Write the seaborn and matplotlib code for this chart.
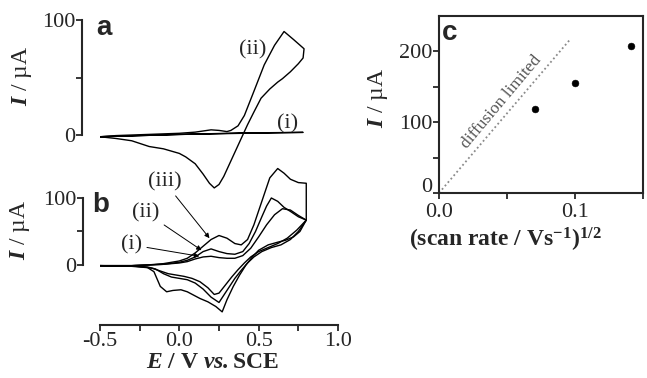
import pandas as pd
import matplotlib.pyplot as plt
import matplotlib.transforms as mtransforms
import seaborn as sns

# ---- panel a : CV (ii) forward + reverse, CV (i) flat ----
a2_fwd_E = [-0.5, -0.4, -0.3, -0.2, -0.1, 0.0, 0.1, 0.15, 0.2, 0.25, 0.3, 0.325,
            0.37, 0.41, 0.47, 0.535, 0.6, 0.66, 0.72, 0.786]
a2_fwd_I = [-1.5, -0.5, 0, 0.5, 1, 1.5, 2.5, 3.5, 4.5, 4, 3, 4,
            8, 17, 38, 61, 78, 90, 83, 75]
a2_rev_E = [0.78, 0.75, 0.7, 0.65, 0.62, 0.57, 0.515, 0.47, 0.43, 0.4, 0.36, 0.32,
            0.28, 0.25, 0.22, 0.19, 0.15, 0.1, 0.04, 0.0, -0.1, -0.19, -0.3, -0.4, -0.5]
a2_rev_I = [67, 62, 55, 49, 46, 40, 32, 20, 9, 0, -12, -24,
            -36, -43, -46, -42, -34, -25, -19, -16, -12, -10, -5, -3, -1.5]
a1_E = [-0.5, 0.0, 0.4, 0.78, 0.4, 0.0, -0.5]
a1_I = [-1.5, 0.5, 1.5, 2.3, 1.8, 0.5, -1.5]

# ---- panel b : three CVs at increasing scan rate ----
b1_fwd_E = [-0.5, -0.3, -0.2, -0.1, 0.0, 0.05, 0.1, 0.15, 0.2, 0.25, 0.3, 0.35, 0.4,
            0.45, 0.5, 0.55, 0.6, 0.65, 0.7, 0.75, 0.8]
b1_fwd_I = [-1, -1, 0, 1, 3, 5, 9, 12, 13, 11, 10, 10, 14,
            25, 42, 60, 75, 84, 82, 74, 67]
b1_rev_E = [0.8, 0.74, 0.68, 0.62, 0.56, 0.5, 0.45, 0.41, 0.37, 0.33, 0.29, 0.25, 0.22,
            0.18, 0.13, 0.08, 0.03, -0.02, -0.07, -0.12, -0.17, -0.22, -0.3, -0.5]
b1_rev_I = [67, 52, 40, 32, 26, 20, 12, 3, -7, -18, -30, -42, -44,
            -34, -25, -20, -17, -15, -13, -9, -5, -3, -1.5, -1]

b2_fwd_E = [-0.5, -0.3, -0.2, -0.1, 0.0, 0.05, 0.1, 0.15, 0.2, 0.25, 0.3, 0.35, 0.4,
            0.44, 0.48, 0.52, 0.55, 0.58, 0.62, 0.66, 0.7, 0.75, 0.8]
b2_fwd_I = [-1, -1, 0, 1, 4, 7, 12, 20, 24, 20, 17, 16, 20,
            32, 50, 72, 88, 100, 95, 86, 80, 72, 67]
b2_rev_E = [0.8, 0.75, 0.7, 0.64, 0.58, 0.52, 0.47, 0.43, 0.39, 0.35, 0.3, 0.25, 0.2,
            0.15, 0.1, 0.05, 0.0, -0.05, -0.1, -0.15, -0.2, -0.3, -0.5]
b2_rev_I = [67, 50, 38, 30, 26, 20, 12, 3, -8, -20, -38, -56, -48,
            -36, -27, -22, -20, -18, -13, -6, -3, -1.5, -1]

b3_fwd_E = [-0.5, -0.3, -0.2, -0.1, 0.0, 0.05, 0.1, 0.15, 0.2, 0.25, 0.3, 0.35, 0.39,
            0.43, 0.47, 0.52, 0.57, 0.62, 0.66, 0.7, 0.75, 0.8]
b3_fwd_I = [-1, -1, 0, 2, 6, 10, 18, 28, 38, 44, 40, 32, 30,
            38, 60, 95, 130, 144, 137, 128, 123, 122]
b3_rev_E = [0.8, 0.76, 0.72, 0.67, 0.62, 0.56, 0.5, 0.46, 0.42, 0.38, 0.34, 0.3, 0.27,
            0.23, 0.18, 0.13, 0.09, 0.05, 0.01, -0.04, -0.08, -0.12, -0.16, -0.2, -0.3, -0.5]
b3_rev_I = [67, 50, 42, 37, 34, 30, 22, 12, 0, -15, -32, -52, -70,
            -62, -55, -50, -45, -40, -37, -38, -40, -32, -10, -4, -2, -1]

# ---- panel c : peak current vs sqrt(scan rate) ----
sqrt_rate = [0.0707, 0.1, 0.1414]
peak_I = [118, 155, 207]
diff_x = [0.0, 0.096]
diff_y = [0, 216]

sns.set_style('ticks')
plt.rcParams['font.family'] = ['Liberation Serif', 'DejaVu Serif']
plt.rcParams['mathtext.fontset'] = 'custom'
plt.rcParams['mathtext.rm'] = 'Liberation Serif'
plt.rcParams['mathtext.it'] = 'Liberation Serif:italic'
plt.rcParams['mathtext.bf'] = 'Liberation Serif:bold'
plt.rcParams['mathtext.bfit'] = 'Liberation Serif:italic:bold'

W, H = 647, 378
fig = plt.figure(figsize=(W / 100, H / 100), dpi=100)


def box(l, t, r, b):
    return [l / W, 1 - b / H, (r - l) / W, (b - t) / H]


fs = 16      # tick labels / curve labels
fl = 17      # axis titles
ylab = r'$\mathbfit{I}$ / µA'

# panel b (drawn first, panel a overlaps it)
ax_b = fig.add_axes(box(100, 130, 338, 325))
ax_b.patch.set_alpha(0)
rows = []
for name, e_f, i_f, e_r, i_r in [('i', b1_fwd_E, b1_fwd_I, b1_rev_E, b1_rev_I),
                                  ('ii', b2_fwd_E, b2_fwd_I, b2_rev_E, b2_rev_I),
                                  ('iii', b3_fwd_E, b3_fwd_I, b3_rev_E, b3_rev_I)]:
    for e, i in zip(e_f + e_r, i_f + i_r):
        rows.append((name, e, i))
df_b = pd.DataFrame(rows, columns=['curve', 'E', 'I'])
sns.lineplot(data=df_b, x='E', y='I', units='curve', estimator=None, sort=False,
             color='black', lw=1.0, ax=ax_b)
ax_b.set_xlim(-0.5, 1.0)
ax_b.set_ylim(-89.6, 201.5)
for s in ['top', 'right']:
    ax_b.spines[s].set_visible(False)
ax_b.spines['left'].set_bounds(0, 100)
ax_b.spines['left'].set_position(('outward', 12.2))
ax_b.spines['left'].set_linewidth(1.5)
ax_b.spines['bottom'].set_linewidth(1.5)
ax_b.set_yticks([0, 50, 100])
ax_b.set_yticklabels(['0', '', '100'])
ax_b.set_xticks([-0.5, -0.25, 0, 0.25, 0.5, 0.75, 1.0])
ax_b.set_xticklabels(['-0.5', '', '0.0', '', '0.5', '', '1.0'])
ax_b.tick_params(labelsize=fs, length=4, width=1.3, pad=1)
ax_b.set_xlabel('')
ax_b.set_ylabel('')

for txt, xt, tip in [('(iii)', (-0.094, 124), (0.19, 40)),
                     ('(ii)', (-0.21, 78), (0.14, 22)),
                     ('(i)', (-0.30, 30), (0.126, 13))]:
    ax_b.annotate(txt, xy=tip, xytext=xt, fontsize=fs, ha='center', va='center',
                  arrowprops=dict(arrowstyle='-|>', lw=0.7, color='black',
                                  mutation_scale=7, shrinkA=1, shrinkB=0))

# panel a
ax_a = fig.add_axes(box(100, 10, 338, 200))
ax_a.patch.set_alpha(0)
sns.lineplot(x=a2_fwd_E + a2_rev_E, y=a2_fwd_I + a2_rev_I, sort=False, estimator=None,
             color='black', lw=1.0, ax=ax_a)
sns.lineplot(x=a1_E, y=a1_I, sort=False, estimator=None, color='black', lw=1.0, ax=ax_a)
ax_a.set_xlim(-0.5, 1.0)
ax_a.set_ylim(-56.5, 108.7)
for s in ['top', 'right', 'bottom']:
    ax_a.spines[s].set_visible(False)
ax_a.spines['left'].set_bounds(0, 100)
ax_a.spines['left'].set_position(('outward', 13))
ax_a.spines['left'].set_linewidth(1.5)
ax_a.set_yticks([0, 50, 100])
ax_a.set_yticklabels(['0', '', '100'])
ax_a.set_xticks([])
ax_a.tick_params(labelsize=fs, length=4, width=1.3, pad=1)
ax_a.set_ylabel('')
ax_a.text(0.46, 74, '(ii)', fontsize=fs, ha='center', va='center')
ax_a.text(0.68, 10, '(i)', fontsize=fs, ha='center', va='center')

# panel c
ax_c = fig.add_axes(box(439, 16, 643, 193))
sns.lineplot(x=diff_x, y=diff_y, color='#8a8a8a', lw=1.3, linestyle=(0, (1, 1.5)), ax=ax_c)
sns.scatterplot(x=sqrt_rate, y=peak_I, color='black', s=24, edgecolor='black', ax=ax_c,
                zorder=3)
ax_c.set_xlim(0, 0.15)
ax_c.set_ylim(0, 250)
for s in ax_c.spines.values():
    s.set_linewidth(1.5)
ax_c.set_xticks([0, 0.05, 0.1, 0.15])
ax_c.set_xticklabels(['0.0', '', '0.1', ''])
ax_c.set_yticks([0, 50, 100, 150, 200])
ax_c.set_yticklabels(['0', '', '100', '', '200'])
ax_c.tick_params(labelsize=fs, length=4, width=1.3, pad=1)
ax_c.tick_params(axis='x', pad=3)
zero_lbl = ax_c.get_yticklabels()[0]
zero_lbl.set_verticalalignment('bottom')
zero_lbl.set_transform(zero_lbl.get_transform() +
                       mtransforms.ScaledTranslation(0, -4 / 100, fig.dpi_scale_trans))
ax_c.text(0.046, 128, 'diffusion limited', fontsize=12.5, color='#555555', rotation=50,
          rotation_mode='anchor', ha='center', va='center')

# axis titles and panel letters
fig.text(22 / W, 1 - 76 / H, ylab, fontsize=fl, rotation=90, ha='center', va='center')
fig.text(20 / W, 1 - 230 / H, ylab, fontsize=fl, rotation=90, ha='center', va='center')
fig.text(378 / W, 1 - 98 / H, ylab, fontsize=fl, rotation=90, ha='center', va='center')
fig.text(212 / W, 1 - 363 / H, r'$\mathbfit{E}$ / V $\mathbfit{vs.}$SCE', fontsize=fl,
         fontweight='bold', ha='center', va='center')
fig.text(505 / W, 1 - 240 / H, r'(scan rate / Vs$^{\mathbf{-1}}$)$^{\mathbf{1/2}}$',
         fontsize=fl, fontweight='bold', ha='center', va='center')
for lbl, px, py in [('a', 104, 28), ('b', 101, 205), ('c', 450, 33)]:
    fig.text(px / W, 1 - py / H, lbl, fontsize=20, fontweight='bold',
             family='Liberation Sans', ha='center', va='center')

fig.savefig('out.png', dpi=100)
